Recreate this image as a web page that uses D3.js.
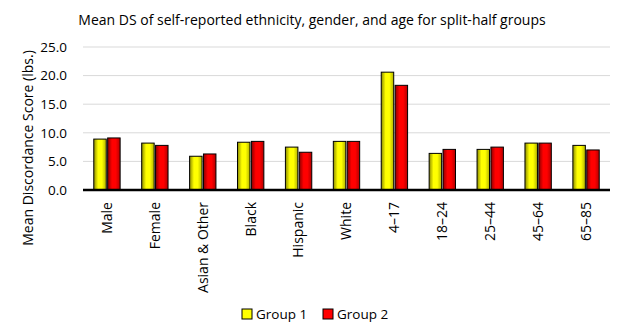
<!DOCTYPE html>
<html>
<head>
<meta charset="utf-8">
<script src="https://cdn.jsdelivr.net/npm/d3@7"></script>
<style>
  body { margin: 0; background: #fff; }
  text { font-family: "Open Sans", "Noto Sans", sans-serif; fill: #000; }
</style>
</head>
<body>
<script>
// chart values
const categories = ["Male", "Female", "Asian & Other", "Black", "Hispanic", "White",
  "4\u201317", "18\u201324", "25\u201344", "45\u201364", "65\u201385"];
const group1 = [8.9, 8.2, 5.9, 8.35, 7.5, 8.5, 20.6, 6.4, 7.1, 8.2, 7.8];
const group2 = [9.1, 7.8, 6.3, 8.5, 6.6, 8.5, 18.3, 7.1, 7.5, 8.2, 7.0];
const seriesNames = ["Group 1", "Group 2"];
const yTicks = [0, 5, 10, 15, 20, 25];

const w = 624;
const h = 336;
const margin = { top: 47, right: 14, bottom: 146, left: 83 };

const svg = d3.select("body")
    .append("svg")
    .attr("width", w)
    .attr("height", h);

// gradients for the shaded bars
const defs = svg.append("defs");
function addGrad(id, edge, mid, edge2) {
  const g = defs.append("linearGradient").attr("id", id)
      .attr("x1", "0%").attr("x2", "100%").attr("y1", "0%").attr("y2", "0%");
  g.append("stop").attr("offset", "0%").attr("stop-color", edge);
  g.append("stop").attr("offset", "35%").attr("stop-color", mid);
  g.append("stop").attr("offset", "65%").attr("stop-color", mid);
  g.append("stop").attr("offset", "100%").attr("stop-color", edge2);
}
addGrad("gYellow", "#8c8c00", "#ffff00", "#b3b300");
addGrad("gRed", "#8c0000", "#ff0000", "#b30000");
const fills = ["url(#gYellow)", "url(#gRed)"];
const swatchFills = ["#ffff00", "#ff0000"];

const xScale = d3.scaleBand()
    .domain(categories)
    .range([margin.left, w - margin.right])
    .paddingInner(0.45)
    .paddingOuter(0.225);

const xInner = d3.scaleBand()
    .domain(seriesNames)
    .range([0, xScale.bandwidth()])
    .paddingInner(0.1);

const yScale = d3.scaleLinear()
    .domain([0, 25])
    .range([h - margin.bottom, margin.top]);

// title
svg.append("text")
    .attr("x", 312)
    .attr("y", 25)
    .attr("text-anchor", "middle")
    .style("font-size", "14px")
    .text("Mean DS of self-reported ethnicity, gender, and age for split-half groups");

// gridlines
svg.append("g")
    .selectAll("line")
    .data(yTicks.slice(1))
    .join("line")
    .attr("x1", margin.left)
    .attr("x2", w - margin.right)
    .attr("y1", d => yScale(d))
    .attr("y2", d => yScale(d))
    .attr("stroke", "#d9d9d9")
    .attr("stroke-width", 1);

// y axis labels
const yAxis = d3.axisLeft(yScale)
    .tickValues(yTicks)
    .tickFormat(d3.format(".1f"))
    .tickSize(0)
    .tickPadding(16);

svg.append("g")
    .attr("transform", "translate(" + margin.left + ",0)")
    .call(yAxis)
    .call(g => g.select(".domain").remove())
    .call(g => g.selectAll("text").style("font-size", "13.5px").style("font-family", "'Open Sans', sans-serif"));

// y axis title
svg.append("text")
    .attr("transform", "translate(33,148) rotate(-90)")
    .attr("text-anchor", "middle")
    .style("font-size", "14px")
    .text("Mean Discordance Score (lbs.)");

// bars
const series = [group1, group2];
const groups = svg.append("g")
    .selectAll("g")
    .data(categories)
    .join("g")
    .attr("transform", d => "translate(" + xScale(d) + ",0)");

groups.selectAll("rect")
    .data((d, i) => series.map((s, j) => ({ name: seriesNames[j], value: s[i], j: j })))
    .join("rect")
    .attr("x", d => xInner(d.name))
    .attr("width", xInner.bandwidth())
    .attr("y", d => yScale(d.value))
    .attr("height", d => yScale(0) - yScale(d.value))
    .attr("fill", d => fills[d.j])
    .attr("stroke", "#000")
    .attr("stroke-width", 1);

// x axis
const xAxis = d3.axisBottom(xScale).tickSize(0).tickPadding(0);
svg.append("g")
    .attr("transform", "translate(0," + yScale(0) + ")")
    .call(xAxis)
    .call(g => g.select(".domain").attr("stroke", "#000").attr("stroke-width", 2.5)
        .attr("d", "M" + margin.left + ",0H" + (w - margin.right)))
    .call(g => g.selectAll("text")
        .style("font-size", "14px")
        .style("font-family", "'Open Sans', sans-serif")
        .attr("text-anchor", "end")
        .attr("dy", "0.35em")
        .attr("transform", "translate(0,12) rotate(-90)")
        .attr("x", 0).attr("y", 0));

// legend
const legend = svg.append("g").attr("transform", "translate(242,314)");
const legendX = [0, 81];
seriesNames.forEach((name, i) => {
  const item = legend.append("g").attr("transform", "translate(" + legendX[i] + ",0)");
  item.append("rect")
      .attr("x", 0).attr("y", -5)
      .attr("width", 10).attr("height", 10)
      .attr("fill", swatchFills[i])
      .attr("stroke", "#000");
  item.append("text")
      .attr("x", 14).attr("y", 0)
      .attr("dy", "0.35em")
      .style("font-size", "13.5px")
      .text(name);
});
</script>
</body>
</html>
